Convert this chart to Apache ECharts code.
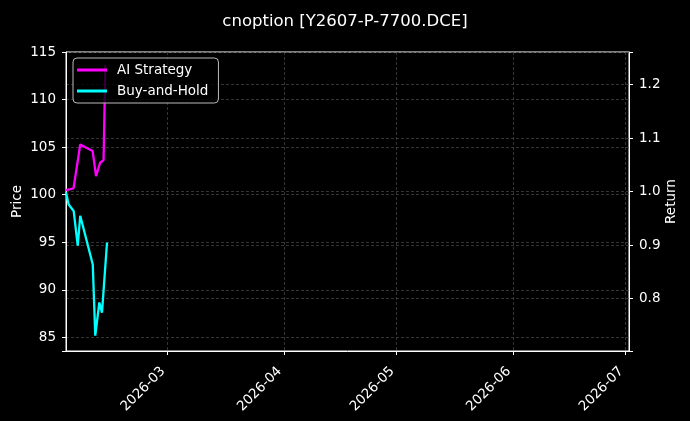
<!DOCTYPE html>
<html>
<head>
    <meta charset="utf-8">
    <title>cnoption</title>
    <script src="https://cdn.jsdelivr.net/npm/echarts@6/dist/echarts.min.js"></script>
    <style>
        html, body {margin: 0; padding: 0; background: #000;}
        #main {width: 690px; height: 421px;}
    </style>
</head>
<body>
<div id="main"></div>
<script>
    // 策略净值 (AI Strategy)
    var stratDates = ['2026-02-02 00:00', '2026-02-04 00:00', '2026-02-05 19:00', '2026-02-09 02:00',
        '2026-02-10 00:00', '2026-02-11 02:00', '2026-02-12 00:00', '2026-02-12 11:00'];
    var stratValues = [1.003, 1.006, 1.088, 1.076, 1.029, 1.054, 1.059, 1.236];

    // 买入持有 (Buy-and-Hold)
    var holdDates = ['2026-02-02 00:00', '2026-02-02 17:00', '2026-02-04 01:00', '2026-02-05 03:00',
        '2026-02-05 19:00', '2026-02-09 03:00', '2026-02-09 19:00', '2026-02-10 21:00',
        '2026-02-11 14:00', '2026-02-12 22:00'];
    var holdValues = [0.999, 0.976, 0.964, 0.899, 0.955, 0.864, 0.731, 0.793, 0.774, 0.905];

    var priceTicks = [85, 90, 95, 100, 105, 110, 115];
    var returnTicks = [0.8, 0.9, 1.0, 1.1, 1.2];

    function pairs(dates, values) {
        var out = [];
        for (var i = 0; i < dates.length; i++) {
            out.push([dates[i], values[i]]);
        }
        return out;
    }

    function onList(list, v) {
        for (var i = 0; i < list.length; i++) {
            if (Math.abs(list[i] - v) < 1e-6) return true;
        }
        return false;
    }

    function pad(n) {
        return n < 10 ? '0' + n : '' + n;
    }

    var font = 'DejaVu Sans';
    var fs = 13.5;
    var gridLine = {show: true, lineStyle: {color: '#4a4a4a', width: 0.7, type: [3, 2]}};

    var myChart = echarts.init(document.getElementById('main'));
    myChart.setOption({
        backgroundColor: '#000',
        animation: false,
        textStyle: {fontFamily: font},
        title: {
            text: 'cnoption [Y2607-P-7700.DCE]',
            left: 'center',
            top: 8,
            textStyle: {color: '#fff', fontSize: 16.5, fontWeight: 'normal', fontFamily: font}
        },
        legend: {
            orient: 'vertical',
            left: 73,
            top: 58,
            padding: [4, 10, 4, 4],
            itemGap: 5,
            itemWidth: 30,
            itemHeight: 3,
            icon: 'rect',
            backgroundColor: 'rgba(0,0,0,0.8)',
            borderColor: '#bbb',
            borderWidth: 1,
            borderRadius: 4,
            textStyle: {color: '#fff', fontSize: fs, fontFamily: font, lineHeight: 16, padding: [0, 0, 0, 5]},
            data: ['AI Strategy', 'Buy-and-Hold']
        },
        grid: {
            left: 66,
            right: 61,
            top: 52,
            bottom: 70,
            outerBoundsMode: 'none',
            containLabel: false,
            show: true,
            borderColor: '#fff',
            borderWidth: 1,
            backgroundColor: 'transparent'
        },
        xAxis: {
            type: 'time',
            min: '2026-02-02 00:00',
            max: '2026-07-01 21:00',
            minInterval: 28 * 24 * 3600 * 1000,
            maxInterval: 31 * 24 * 3600 * 1000,
            axisLine: {lineStyle: {color: '#fff', width: 1}},
            axisTick: {show: true, length: 4, lineStyle: {color: '#fff'}},
            splitLine: gridLine,
            axisLabel: {
                color: '#fff',
                fontSize: fs,
                fontFamily: font,
                rotate: 45,
                margin: 14,
                padding: [0, 6, 0, 0],
                hideOverlap: false,
                formatter: function (v) {
                    var d = new Date(v);
                    if (d.getDate() !== 1) return '';
                    return d.getFullYear() + '-' + pad(d.getMonth() + 1);
                }
            }
        },
        yAxis: [
            {
                type: 'value',
                name: 'Price',
                nameLocation: 'middle',
                nameGap: 42,
                nameMoveOverlap: false,
                nameTextStyle: {color: '#fff', fontSize: fs, fontFamily: font},
                min: 83.56,
                max: 115,
                position: 'left',
                axisLine: {show: true, lineStyle: {color: '#fff', width: 1}},
                axisTick: {show: true, length: 4, lineStyle: {color: '#fff'}},
                splitLine: gridLine,
                axisLabel: {
                    color: '#fff', fontSize: fs, fontFamily: font, margin: 10,
                    formatter: function (v) {
                        return onList(priceTicks, v) ? String(v) : '';
                    }
                }
            },
            {
                type: 'value',
                name: 'Return',
                nameLocation: 'middle',
                nameGap: 35,
                nameMoveOverlap: false,
                nameTextStyle: {color: '#fff', fontSize: fs, fontFamily: font},
                min: 0.7024,
                max: 1.2608,
                position: 'right',
                axisLine: {show: true, lineStyle: {color: '#fff', width: 1}},
                axisTick: {show: true, length: 4, lineStyle: {color: '#fff'}},
                splitLine: gridLine,
                axisLabel: {
                    color: '#fff', fontSize: fs, fontFamily: font, margin: 10,
                    formatter: function (v) {
                        return onList(returnTicks, v) ? v.toFixed(1) : '';
                    }
                }
            }
        ],
        series: [
            {
                name: 'AI Strategy',
                type: 'line',
                yAxisIndex: 1,
                symbol: 'none',
                color: '#ff00ff',
                lineStyle: {width: 2.3, color: '#ff00ff'},
                z: 3,
                data: pairs(stratDates, stratValues)
            },
            {
                name: 'Buy-and-Hold',
                type: 'line',
                yAxisIndex: 1,
                symbol: 'none',
                color: '#00ffff',
                lineStyle: {width: 2.3, color: '#00ffff'},
                z: 3,
                data: pairs(holdDates, holdValues)
            }
        ]
    });
</script>
</body>
</html>
